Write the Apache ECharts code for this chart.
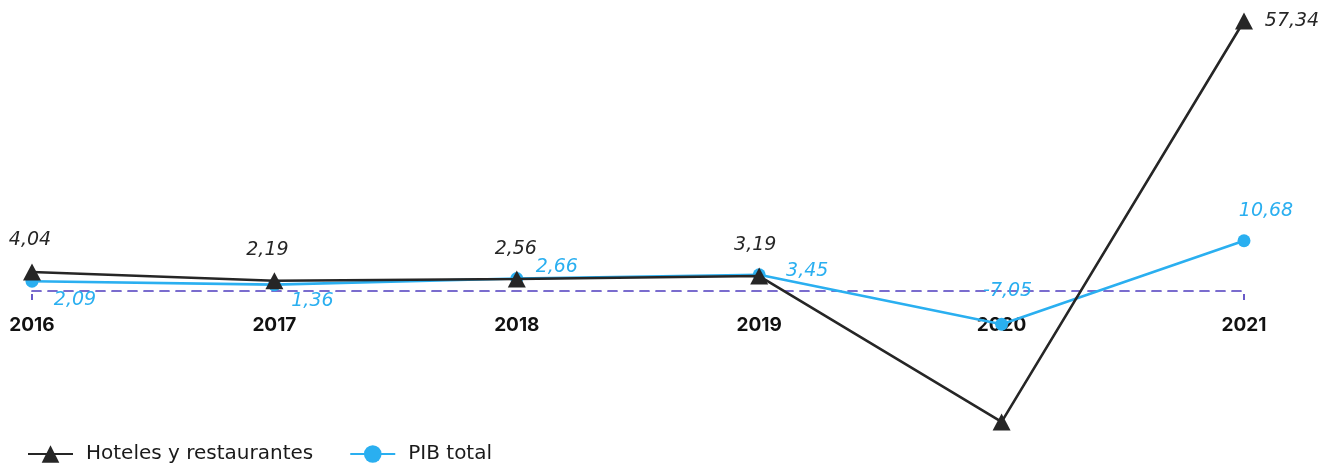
<!DOCTYPE html>
<html>
<head>
<meta charset="utf-8">
<script src="https://cdn.jsdelivr.net/npm/echarts@6/dist/echarts.min.js"></script>
<style>
  html, body { margin: 0; padding: 0; background: #ffffff; }
  #chart { width: 1328px; height: 467px; }
</style>
</head>
<body>
<div id="chart"></div>
<script>
// Years on the category axis
const years = ['2016', '2017', '2018', '2019', '2020', '2021'];

// Annual growth (%), hotels & restaurants sector vs. total GDP
const hotelesValues = [4.04, 2.19, 2.56, 3.19, -27.8, 57.34];
const pibValues = [2.09, 1.36, 2.66, 3.45, -7.05, 10.68];

// Which points carry a value label (the 2020 sector point has none)
const hotelesShowLabel = [true, true, true, true, false, true];
const pibShowLabel = [true, true, true, true, true, true];

// Label offsets from the centre of each marker, in pixels
const hotelesLabelOffset = [[-2, -32], [-7, -31], [-1, -30], [-4, -31], [0, 0], [48, 0]];
const pibLabelOffset = [[43, 19], [38, 16], [40, -11], [48, -4], [6, -33], [22, -30]];

const FONT = '"DejaVu Sans", Inter, sans-serif';
const YEAR_FONT = 'Inter, "Open Sans", sans-serif';
const DARK = '#262626';
const BLUE = '#2aaff0';
const AXIS = '#4f3dbf';

const fmt = v => v.toFixed(2).replace('.', ',');

function buildData(values, show, offsets, color) {
  return values.map((v, i) => ({
    value: v,
    label: {
      show: show[i],
      position: 'inside',
      offset: offsets[i],
      color: color,
      fontFamily: FONT,
      fontStyle: 'italic',
      fontSize: 19,
      formatter: p => fmt(p.value)
    }
  }));
}

const chart = echarts.init(document.getElementById('chart'), null, { renderer: 'canvas' });

chart.setOption({
  animation: false,
  backgroundColor: '#ffffff',
  grid: {
    left: 32, right: 84, top: 8.5, bottom: 34.7,
    containLabel: false,
    outerBoundsMode: 'none'
  },
  legend: {
    left: 27,
    top: 444,
    padding: 0,
    itemWidth: 45,
    itemHeight: 22,
    itemGap: 36,
    data: ['Hoteles y restaurantes', 'PIB total'],
    textStyle: {
      fontFamily: FONT,
      fontSize: 20,
      color: '#1a1a1a',
      padding: [0, 0, 0, 8]
    }
  },
  xAxis: {
    type: 'category',
    data: years,
    boundaryGap: false,
    axisLine: {
      onZero: true,
      lineStyle: { color: AXIS, width: 1.7, type: [9, 7] }
    },
    axisTick: {
      show: true,
      length: 9,
      interval: (i) => i === 0 || i === years.length - 1,
      lineStyle: { color: AXIS, width: 1.7, type: [6, 20], dashOffset: 23 }
    },
    axisLabel: {
      inside: true,
      margin: 98,
      color: '#111111',
      fontFamily: YEAR_FONT,
      fontWeight: 'bold',
      fontSize: 19
    },
    splitLine: { show: false }
  },
  yAxis: {
    type: 'value',
    min: -30,
    max: 60,
    show: false,
    splitLine: { show: false }
  },
  series: [
    {
      name: 'PIB total',
      type: 'line',
      z: 2,
      data: buildData(pibValues, pibShowLabel, pibLabelOffset, BLUE),
      symbol: 'circle',
      symbolSize: 13,
      itemStyle: { color: BLUE },
      lineStyle: { color: BLUE, width: 2.6 }
    },
    {
      name: 'Hoteles y restaurantes',
      type: 'line',
      z: 3,
      data: buildData(hotelesValues, hotelesShowLabel, hotelesLabelOffset, DARK),
      symbol: 'triangle',
      symbolSize: [18, 17],
      itemStyle: { color: DARK },
      lineStyle: { color: DARK, width: 2.6 }
    }
  ]
});
</script>
</body>
</html>
